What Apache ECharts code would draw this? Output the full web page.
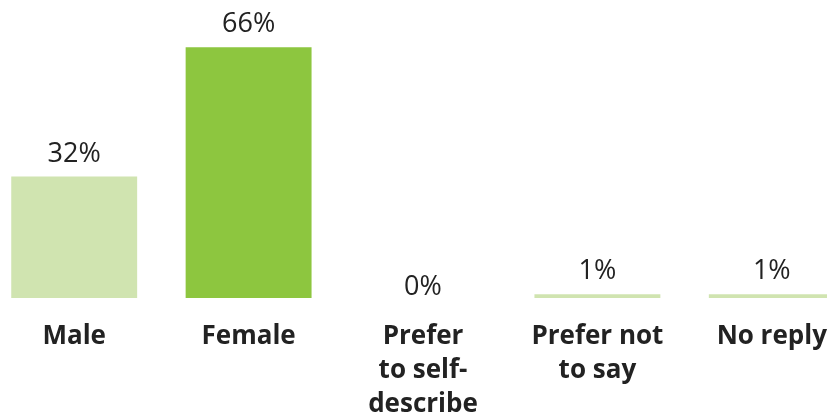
<!DOCTYPE html>
<html>
<head>
<meta charset="utf-8">
<script src="https://cdn.jsdelivr.net/npm/echarts@6/dist/echarts.min.js"></script>
<style>
  html, body { margin: 0; padding: 0; background: #ffffff; }
  #chart { width: 827px; height: 415px; }
</style>
</head>
<body>
<div id="chart"></div>
<script>
// Respondents by gender (share of all replies, %)
const categories = ['Male', 'Female', 'Prefer\nto self-\ndescribe', 'Prefer not\nto say', 'No reply'];
const shares = [32, 66, 0, 1, 1];
const barColors = ['#d0e4b0', '#8dc63f', '#d0e4b0', '#d0e4b0', '#d0e4b0'];

const chart = echarts.init(document.getElementById('chart'));
chart.setOption({
  animation: false,
  grid: { left: -13, width: 872, top: 32, bottom: 117, containLabel: false, outerBoundsMode: 'none' },
  xAxis: {
    type: 'category',
    data: categories,
    axisLine: { show: false },
    axisTick: { show: false },
    axisLabel: {
      interval: 0,
      margin: 22,
      color: '#222222',
      fontFamily: 'Open Sans',
      fontWeight: 'bold',
      fontSize: 26,
      lineHeight: 34
    }
  },
  yAxis: {
    type: 'value',
    min: 0,
    max: 70,
    show: false,
    splitLine: { show: false }
  },
  series: [{
    type: 'bar',
    barCategoryGap: '27.8%',
    data: shares.map((v, i) => ({
      value: v,
      itemStyle: { color: barColors[i] },
      // an empty bar keeps its label down near the baseline
      label: v === 0 ? { distance: -3 } : undefined
    })),
    label: {
      show: true,
      position: 'top',
      distance: 9,
      formatter: p => p.value + '%',
      color: '#222222',
      fontFamily: 'Open Sans',
      fontSize: 27
    }
  }]
});
</script>
</body>
</html>
